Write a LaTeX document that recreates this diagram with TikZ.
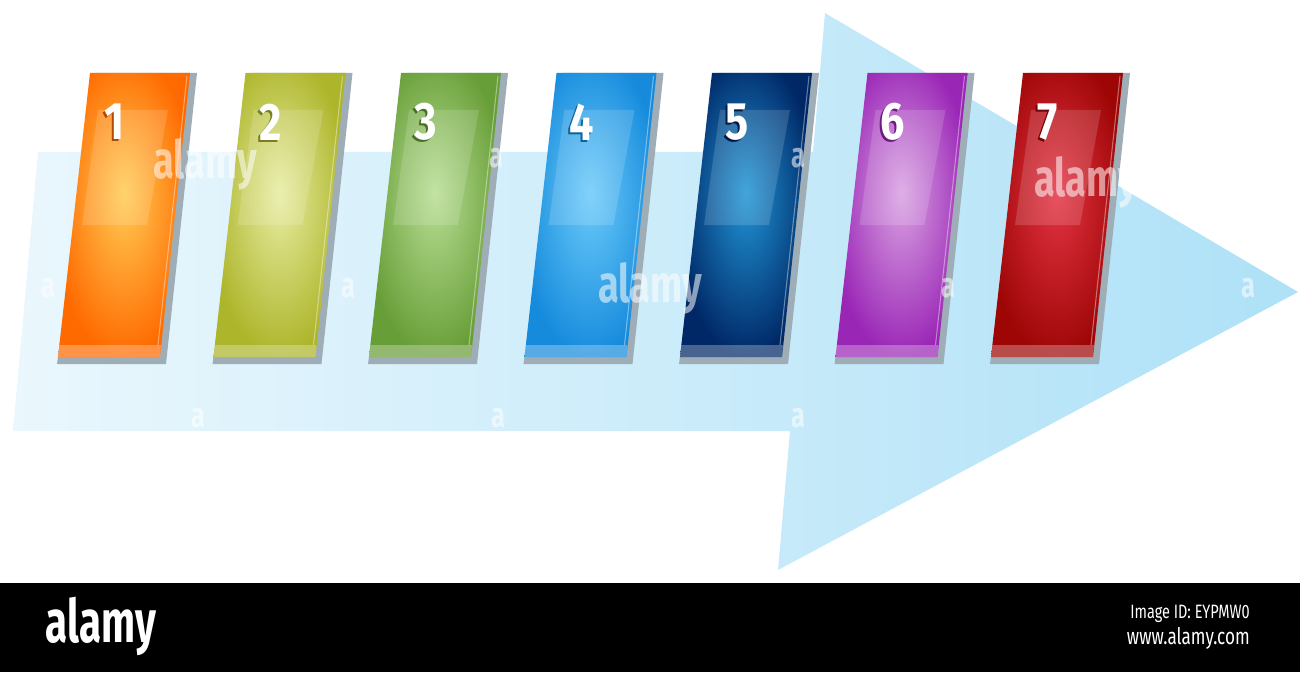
\documentclass[tikz,border=0pt]{standalone}
\usepackage{fontspec}
\setsansfont{Fira Sans}
\usepackage{tikz}
\usetikzlibrary{positioning}

\definecolor{ArrowLight}{HTML}{EAF7FD}
\definecolor{ArrowDeep}{HTML}{AEE1F7}
\definecolor{ShadowGray}{HTML}{9FADB6}
\definecolor{BarOrange}{HTML}{FF6A00}
\definecolor{GlowOrange}{HTML}{FFCC55}
\definecolor{BarOlive}{HTML}{ADB52A}
\definecolor{GlowOlive}{HTML}{E8EDA2}
\definecolor{BarGreen}{HTML}{689E38}
\definecolor{GlowGreen}{HTML}{B8DE94}
\definecolor{BarBlue}{HTML}{168BDC}
\definecolor{GlowBlue}{HTML}{6CCBFA}
\definecolor{BarNavy}{HTML}{002766}
\definecolor{GlowNavy}{HTML}{2196D6}
\definecolor{BarPurple}{HTML}{9A26B6}
\definecolor{GlowPurple}{HTML}{D9A2E2}
\definecolor{BarRed}{HTML}{9E0606}
\definecolor{GlowRed}{HTML}{E43444}
\colorlet{GlowIn}{white}
\colorlet{GlowOut}{black}
\pgfdeclareradialshading[GlowIn,GlowOut]{bar glow}{\pgfpoint{0bp}{4bp}}{color(0bp)=(GlowIn); color(27bp)=(GlowOut); color(50bp)=(GlowOut)}

\begin{document}
\begin{tikzpicture}[x=0.02cm, y=-0.02cm]
        \tikzstyle Arrow Fill=[left color=ArrowLight, right color=ArrowDeep]
        \tikzstyle Bar Shadow=[fill=ShadowGray]
        \tikzstyle Glass Patch=[fill=white, fill opacity=0.15]
        \tikzstyle Base Strip=[fill=white, fill opacity=0.28]
        \tikzstyle Edge Shine=[draw=white, draw opacity=0.4, line width=0.6pt]
        \tikzstyle Digit=[font=\sffamily\bfseries\fontsize{30}{30}\selectfont, inner sep=0pt, xscale=0.82]
        \tikzstyle Watermark=[font=\sffamily\bfseries\fontsize{30}{30}\selectfont, text=white, text opacity=0.55, inner sep=0pt, xscale=0.72]
        \tikzstyle Small Mark=[Watermark, font=\sffamily\bfseries\fontsize{20}{20}\selectfont]
        \tikzstyle Footer Text=[font=\sffamily, text=white, inner sep=0pt, xscale=0.75]

        \useasboundingbox (0,0) rectangle (1300,672);

        % big arrow behind the bars
        \shade[Arrow Fill] (38,152) -- (813,152) -- (825,13) -- (1298,292) -- (778,570)
            -- (790,431) -- (13,431) -- cycle;

        % the seven bars
        \foreach \i/\Out/\In in {0/BarOrange/GlowOrange, 1/BarOlive/GlowOlive, 2/BarGreen/GlowGreen,
                3/BarBlue/GlowBlue, 4/BarNavy/GlowNavy, 5/BarPurple/GlowPurple, 6/BarRed/GlowRed} {
            \pgfmathsetmacro\dx{155.5*\i}
            \pgfmathtruncatemacro\n{\i+1}
            \colorlet{GlowIn}{\In}
            \colorlet{GlowOut}{\Out}
            \fill[Bar Shadow] ({96+\dx},73) -- ({197+\dx},73) -- ({166+\dx},364) -- ({57+\dx},364) -- cycle;
            \shade[shading=bar glow] ({90+\dx},73) -- ({190+\dx},73) -- ({160+\dx},357) -- ({58+\dx},357) -- cycle;
            \fill[Glass Patch] ({98+\dx},110) -- ({168+\dx},110) -- ({147+\dx},225) -- ({82+\dx},225) -- cycle;
            \fill[Base Strip] ({59+\dx},345) -- ({161+\dx},345) -- ({160+\dx},357) -- ({58+\dx},357) -- cycle;
            \draw[Edge Shine] ({187+\dx},76) -- ({158+\dx},345);
            \node[Digit, text=\Out!70!black] (shadow\n) at ({113+\dx},124) {\n};
            \node[Digit, text=white] (digit\n) at ({115+\dx},122) {\n};
        }

        % watermark
        \node[Watermark] (markA) at (205,164) {alamy};
        \node[Watermark] (markB) at (650,288) {alamy};
        \node[Watermark] (markC) at (1086,182) {alamy};
        \foreach \x/\y [count=\k] in {48/288, 348/288, 948/288, 1248/288, 198/418, 498/418, 798/418, 496/158, 798/158}
            \node[Small Mark] (small\k) at (\x,\y) {a};

        % footer band
        \fill[black] (0,583) rectangle (1300,672);
        \node[Footer Text, font=\sffamily\bfseries\fontsize{34}{34}\selectfont, xscale=0.9] (logo) at (101,626) {alamy};
        \node[Footer Text, font=\sffamily\fontsize{11}{11}\selectfont, anchor=east] (imageid) at (1250,614) {Image ID: EYPMW0};
        \node[Footer Text, font=\sffamily\fontsize{13}{13}\selectfont, anchor=east] (site) at (1250,638) {www.alamy.com};
\end{tikzpicture}
\end{document}
